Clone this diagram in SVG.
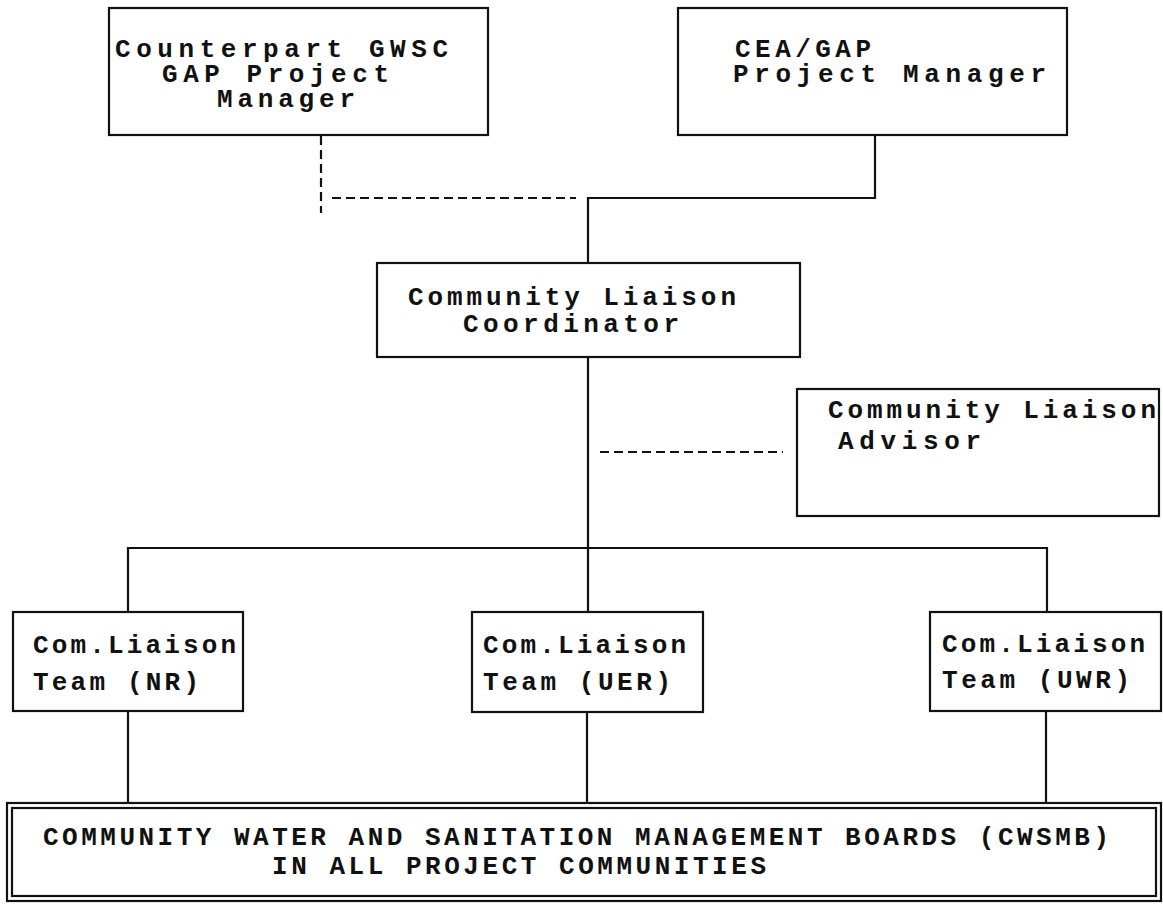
<svg xmlns="http://www.w3.org/2000/svg" width="1163" height="906" viewBox="0 0 1163 906">
<style>
.box{fill:#fff;stroke:#111;stroke-width:2.2}
.ln{fill:none;stroke:#111;stroke-width:2.2}
.dash{fill:none;stroke:#111;stroke-width:2.2;stroke-dasharray:9 5}
.t{font-family:"Liberation Mono","Courier New",monospace;font-size:26px;font-weight:bold;fill:#111}
</style>
<rect width="1163" height="906" fill="#fff"/>
<g id="connectors">
<path class="dash" d="M321,136 V213"/>
<path class="dash" d="M332,198 H576"/>
<path class="ln" d="M875,135 V198 H588 V262"/>
<path class="ln" d="M588,357 V612"/>
<path class="dash" d="M600,452 H783"/>
<path class="ln" d="M128,612 V548 H1047 V612"/>
<path class="ln" d="M128,711 V803"/>
<path class="ln" d="M587,712 V803"/>
<path class="ln" d="M1046,711 V803"/>
</g>
<g id="counterpart">
<rect class="box" x="109" y="8" width="379" height="127"/>
<text class="t" x="115" y="57" textLength="333" lengthAdjust="spacing">Counterpart GWSC</text>
<text class="t" x="162" y="82" textLength="227" lengthAdjust="spacing">GAP Project</text>
<text class="t" x="217" y="107" textLength="138" lengthAdjust="spacing">Manager</text>
</g>
<g id="cea">
<rect class="box" x="678" y="8" width="389" height="127"/>
<text class="t" x="735" y="57" textLength="136" lengthAdjust="spacing">CEA/GAP</text>
<text class="t" x="733" y="82" textLength="313" lengthAdjust="spacing">Project Manager</text>
</g>
<g id="coordinator">
<rect class="box" x="377" y="263" width="423" height="94"/>
<text class="t" x="408" y="305" textLength="328" lengthAdjust="spacing">Community Liaison</text>
<text class="t" x="463" y="332" textLength="216" lengthAdjust="spacing">Coordinator</text>
</g>
<g id="advisor">
<rect class="box" x="797" y="389" width="362" height="127"/>
<text class="t" x="828" y="418" textLength="328" lengthAdjust="spacing">Community Liaison</text>
<text class="t" x="838" y="449" textLength="143" lengthAdjust="spacing">Advisor</text>
</g>
<g id="team-nr">
<rect class="box" x="13" y="612" width="230" height="99"/>
<text class="t" x="33" y="653" textLength="203" lengthAdjust="spacing">Com.Liaison</text>
<text class="t" x="33" y="690" textLength="166" lengthAdjust="spacing">Team (NR)</text>
</g>
<g id="team-uer">
<rect class="box" x="472" y="612" width="231" height="100"/>
<text class="t" x="483" y="653" textLength="203" lengthAdjust="spacing">Com.Liaison</text>
<text class="t" x="483" y="690" textLength="188" lengthAdjust="spacing">Team (UER)</text>
</g>
<g id="team-uwr">
<rect class="box" x="930" y="612" width="231" height="99"/>
<text class="t" x="942" y="652" textLength="203" lengthAdjust="spacing">Com.Liaison</text>
<text class="t" x="942" y="688" textLength="188" lengthAdjust="spacing">Team (UWR)</text>
</g>
<g id="cwsmb">
<rect class="box" x="7" y="803" width="1154" height="98" stroke-width="2.5"/>
<rect class="box" x="12" y="808" width="1144" height="88" fill="none"/>
<text class="t" x="43" y="845" textLength="1066" lengthAdjust="spacing">COMMUNITY WATER AND SANITATION MANAGEMENT BOARDS (CWSMB)</text>
<text class="t" x="272" y="874" textLength="494" lengthAdjust="spacing">IN ALL PROJECT COMMUNITIES</text>
</g>
</svg>
